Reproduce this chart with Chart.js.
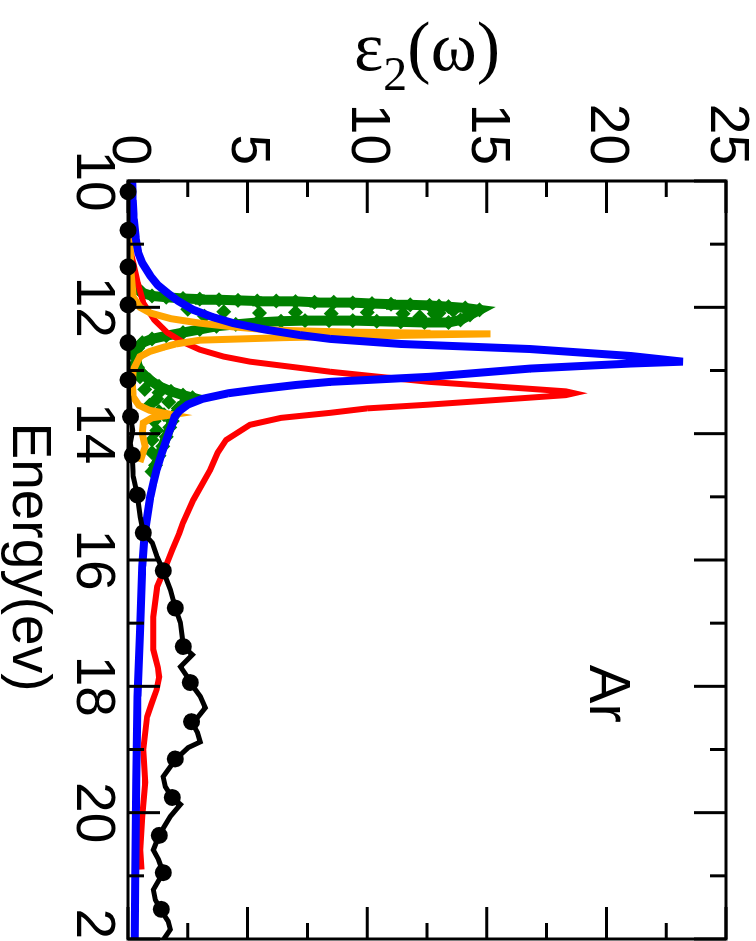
<!DOCTYPE html>
<html>
<head>
<meta charset="utf-8">
<script src="https://cdn.jsdelivr.net/npm/chart.js@4.4.0/dist/chart.umd.min.js"></script>
<style>
  html, body { margin: 0; padding: 0; background: #fff; overflow: hidden; width: 756px; height: 941px; }
  /* the figure is drawn landscape and turned a quarter clockwise */
  #wrap { position: absolute; left: 0; top: 0; width: 980px; height: 756px;
          transform-origin: 0 0; transform: translate(756px, 0) rotate(90deg); }
</style>
</head>
<body>
<div id="wrap"><canvas id="eps2" width="980" height="756"></canvas></div>
<script>
// experiment (black line + dots)
const blackE = [10.0, 10.5, 11.0, 11.5, 12.0, 12.5, 13.0, 13.4, 13.7, 13.95,
                14.15, 14.34, 14.68, 14.97, 15.32, 15.57, 15.73, 15.95, 16.17, 16.47,
                16.76, 16.99, 17.22, 17.37, 17.5, 17.69, 17.85, 17.94, 18.16, 18.34,
                18.48, 18.56, 18.73, 18.88, 18.97, 19.16, 19.43, 19.59, 19.76, 19.87,
                20.06, 20.35, 20.59, 20.74, 20.95, 21.22, 21.38, 21.55, 21.72, 21.85, 22.0];
const blackY = [0, 0, 0, 0, 0, 0, 0, 0.03, 0.1, 0.2,
                0.1, 0.18, 0.22, 0.39, 0.51, 0.64, 1.02, 1.22, 1.47, 1.77,
                1.98, 2.19, 2.27, 2.31, 2.69, 2.19, 2.48, 2.6, 3.02, 3.23,
                2.94, 2.65, 2.9, 3.02, 2.52, 1.98, 1.47, 1.56, 1.85, 2.19,
                1.77, 1.31, 1.06, 1.27, 1.47, 1.06, 1.14, 1.39, 1.68, 1.77, 1.5];
const dotE = [10.17, 10.78, 11.36, 11.96, 12.56, 13.15, 13.73, 14.34, 14.97, 15.57,
              16.17, 16.76, 17.37, 17.94, 18.56, 19.15, 19.76, 20.36, 20.95, 21.53];
const dotY = [0, 0, 0, 0, 0, 0, 0.1, 0.18, 0.39, 0.64,
              1.47, 1.98, 2.31, 2.6, 2.65, 1.98, 1.85, 1.31, 1.47, 1.39];

const blueE = [10.0, 10.3, 10.6, 10.9, 11.14, 11.3, 11.5, 11.65, 11.77, 11.9,
               12.04, 12.15, 12.25, 12.35, 12.44, 12.5, 12.58, 12.66, 12.77, 12.86,
               12.89, 12.97, 13.1, 13.18, 13.23, 13.3, 13.36, 13.45, 13.54, 13.64,
               13.73, 13.85, 13.99, 14.3, 14.57, 14.78, 15.0, 15.57, 16.1, 17.15,
               18.16, 19.5, 21.0, 22.0];
const blueY = [0.18, 0.2, 0.24, 0.32, 0.43, 0.6, 0.93, 1.25, 1.64, 2.1,
               2.73, 3.5, 4.4, 5.7, 7.2, 8.46, 11.4, 16.8, 21.0, 23.2,
               21.0, 16.8, 12.6, 8.46, 7.0, 5.4, 4.2, 3.1, 2.5, 2.15,
               1.95, 1.85, 1.7, 1.42, 1.2, 1.06, 0.93, 0.7, 0.6, 0.5,
               0.4, 0.35, 0.3, 0.28];

const redE = [10.9, 11.1, 11.3, 11.6, 11.93, 12.2, 12.4, 12.55, 12.67, 12.78,
              12.86, 12.95, 13.02, 13.1, 13.18, 13.29, 13.33, 13.36, 13.39, 13.43,
              13.54, 13.6, 13.67, 13.75, 13.86, 14.1, 14.3, 14.57, 15.05, 15.41,
              15.57, 15.84, 16.04, 16.42, 16.9, 17.42, 17.7, 17.85, 18.05, 18.26,
              18.48, 19.0, 19.52, 20.06, 20.59, 20.9];
const redY = [0.0, 0.1, 0.22, 0.4, 0.64, 1.1, 1.64, 2.3, 3.0, 4.0,
              5.1, 7.0, 8.46, 10.5, 12.6, 16.8, 18.3, 18.65, 18.3, 16.8,
              12.6, 10.0, 8.46, 6.4, 5.1, 4.1, 3.75, 3.44, 2.73, 2.3,
              2.15, 1.85, 1.64, 1.22, 1.06, 1.06, 1.25, 1.3, 1.2, 1.0,
              0.8, 0.64, 0.72, 0.6, 0.51, 0.56];

const orangeE = [10.0, 10.5, 10.9, 11.4, 11.84, 12.0, 12.09, 12.18, 12.25, 12.31,
                 12.36, 12.39, 12.41, 12.42, 12.44, 12.46, 12.48, 12.52, 12.58, 12.63,
                 12.7, 12.78, 12.99, 13.2, 13.42, 13.55, 13.63, 13.7, 13.75, 13.83,
                 14.0, 14.2, 14.45];
const orangeY = [0.05, 0.05, 0.08, 0.12, 0.22, 0.5, 0.93, 1.8, 3.0, 4.4,
                 6.0, 9.0, 12.5, 15.15, 12.0, 9.0, 6.5, 3.0, 2.0, 1.5,
                 0.9, 0.5, 0.22, 0.18, 0.22, 0.45, 0.9, 1.85, 1.0, 0.64,
                 0.6, 0.72, 0.5];

const greenE = [11.45, 11.6, 11.7, 11.77, 11.82, 11.84, 11.86, 11.87, 11.88, 11.89,
                11.9, 11.9, 11.91, 11.92, 11.92, 11.93, 11.94, 11.95, 11.96, 11.97,
                11.99, 12.01, 12.04, 12.12, 12.2, 12.24, 12.24, 12.23, 12.22, 12.21,
                12.21, 12.21, 12.22, 12.24, 12.27, 12.3, 12.35, 12.4, 12.45, 12.5,
                12.56, 12.65, 12.8, 12.95, 13.05, 13.15, 13.25, 13.33, 13.39, 13.43,
                13.5, 13.6, 13.7, 13.8, 13.9, 14.05, 14.2, 14.35, 14.5, 14.6];
const greenY = [0.1, 0.2, 0.4, 0.6, 1.0, 1.6, 2.3, 3.0, 3.8, 4.6,
                5.4, 6.2, 7.0, 7.8, 8.6, 9.4, 10.2, 11.0, 11.8, 12.6,
                13.4, 14.1, 14.7, 14.3, 13.9, 13.4, 12.4, 11.4, 10.4, 9.4,
                8.4, 7.4, 6.4, 5.4, 4.5, 3.7, 3.0, 2.3, 1.6, 1.0,
                0.6, 0.4, 0.35, 0.4, 0.6, 0.9, 1.3, 1.8, 2.3, 2.7,
                2.4, 2.1, 1.95, 1.85, 1.75, 1.6, 1.45, 1.3, 1.15, 1.0];
const greenFillE = [11.98, 12.05, 12.1, 12.15, 12.07, 12.09, 12.08, 12.1, 12.08, 12.1,
                    12.09, 12.03, 12.14, 13.1, 13.3, 13.45, 13.55, 13.65, 13.8, 13.95,
                    14.1, 14.3, 13.35, 13.5, 13.7, 12.6, 12.75, 12.9];
const greenFillY = [13.0, 13.6, 12.8, 12.2, 4.0, 5.5, 7.0, 8.5, 10.0, 11.5,
                    13.0, 2.5, 3.2, 0.5, 0.7, 1.2, 0.9, 1.3, 1.1, 1.2,
                    1.0, 1.0, 1.3, 1.7, 1.5, 0.2, 0.25, 0.3];

const energyTicks = { min: 10, max: 22, major: 2, minor: 1 };
const epsTicks = { min: 0, max: 25, major: 5, minor: 2.5 };

const pts = (xs, ys) => xs.map((x, i) => ({ x: x, y: ys[i] }));

const frameAndText = {
  id: 'frameAndText',
  afterDatasetsDraw(chart) {
    const { ctx, chartArea: a, scales: { x, y } } = chart;
    ctx.save();
    ctx.strokeStyle = '#000';
    ctx.lineWidth = 3;
    ctx.strokeRect(a.left, a.top, a.right - a.left, a.bottom - a.top);
    ctx.beginPath();
    for (let e = energyTicks.min; e <= energyTicks.max; e += energyTicks.minor) {
      const px = x.getPixelForValue(e);
      const len = e % energyTicks.major === 0 ? 32 : 16;
      ctx.moveTo(px, a.bottom); ctx.lineTo(px, a.bottom - len);
      ctx.moveTo(px, a.top); ctx.lineTo(px, a.top + len);
    }
    for (let v = epsTicks.min; v <= epsTicks.max; v += epsTicks.minor) {
      const py = y.getPixelForValue(v);
      const len = v % epsTicks.major === 0 ? 32 : 16;
      ctx.moveTo(a.left, py); ctx.lineTo(a.left + len, py);
      ctx.moveTo(a.right, py); ctx.lineTo(a.right - len, py);
    }
    ctx.stroke();

    ctx.fillStyle = '#000';
    // x title
    ctx.font = '55px "Liberation Sans", Arial, sans-serif';
    ctx.textAlign = 'center';
    ctx.textBaseline = 'alphabetic';
    ctx.fillText('Energy(ev)', (a.left + a.right) / 2 - 3, a.bottom + 115);

    // "Ar" label
    ctx.font = '58px "Liberation Sans", Arial, sans-serif';
    ctx.textAlign = 'left';
    ctx.fillText('Ar', x.getPixelForValue(17.66), y.getPixelForValue(19.3));

    // y title: epsilon with subscript 2
    ctx.save();
    ctx.translate(70, (a.top + a.bottom) / 2);
    ctx.rotate(-Math.PI / 2);
    const big = '70px "Liberation Serif", "Times New Roman", serif';
    const small = '48px "Liberation Serif", "Times New Roman", serif';
    ctx.font = big; const w1 = ctx.measureText('\u03b5').width; const w3 = ctx.measureText('(\u03c9)').width;
    ctx.font = small; const w2 = ctx.measureText('2').width;
    let sx = -(w1 + w2 + w3) / 2;
    ctx.textAlign = 'left';
    ctx.font = big; ctx.fillText('\u03b5', sx, 0); sx += w1;
    ctx.font = small; ctx.fillText('2', sx, 20); sx += w2;
    ctx.font = big; ctx.fillText('(\u03c9)', sx, 0);
    ctx.restore();
    ctx.restore();
  }
};

const ctx = document.getElementById('eps2').getContext('2d');
const eps2Chart = new Chart(ctx, {
  type: 'scatter',
  data: {
    datasets: [
      { label: 'exp', data: pts(dotE, dotY), showLine: false, pointRadius: 8.5,
        pointBackgroundColor: '#000', pointBorderWidth: 0, clip: false, order: 0 },
      { label: 'exp line', data: pts(blackE, blackY), showLine: true, borderColor: '#000',
        borderWidth: 5, pointRadius: 0, order: 1 },
      { label: 'blue', data: pts(blueE, blueY), showLine: true, borderColor: '#0000ff',
        borderWidth: 8, pointRadius: 0, order: 2 },
      { label: 'orange', data: pts(orangeE, orangeY), showLine: true, borderColor: '#ffa500',
        borderWidth: 7, pointRadius: 0, order: 3 },
      { label: 'red', data: pts(redE, redY), showLine: true, borderColor: '#ff0000',
        borderWidth: 6, pointRadius: 0, order: 4 },
      { label: 'green', data: pts(greenE, greenY), showLine: true, borderColor: '#008000',
        borderWidth: 10, pointStyle: 'rectRot', pointRadius: 7.5, pointBackgroundColor: '#008000',
        pointBorderWidth: 0, order: 5 },
      { label: 'green fill', data: pts(greenFillE, greenFillY), showLine: false,
        pointStyle: 'rectRot', pointRadius: 7.5, pointBackgroundColor: '#008000',
        pointBorderWidth: 0, order: 6 }
    ]
  },
  options: {
    responsive: false,
    animation: false,
    events: [],
    layout: { padding: { left: 0, right: 41, top: 30, bottom: 0 } },
    plugins: { legend: { display: false }, tooltip: { enabled: false } },
    scales: {
      x: {
        type: 'linear', min: energyTicks.min, max: energyTicks.max,
        grid: { display: false, drawTicks: false },
        border: { display: false },
        ticks: { stepSize: energyTicks.major, padding: 8, maxRotation: 0, autoSkip: false, color: '#000',
                 font: { family: '"Liberation Sans", Arial, sans-serif', size: 55, lineHeight: 1 } },
        afterFit: (s) => { s.height = 128; }
      },
      y: {
        type: 'linear', min: epsTicks.min, max: epsTicks.max,
        grid: { display: false, drawTicks: false },
        border: { display: false },
        // small lineHeight keeps the label half-height from pushing the frame down
        ticks: { stepSize: epsTicks.major, padding: 16, autoSkip: false, color: '#000',
                 font: { family: '"Liberation Sans", Arial, sans-serif', size: 55, lineHeight: 0.4 } },
        afterFit: (s) => { s.width = 181; }
      }
    }
  },
  plugins: [frameAndText]
});
</script>
</body>
</html>
